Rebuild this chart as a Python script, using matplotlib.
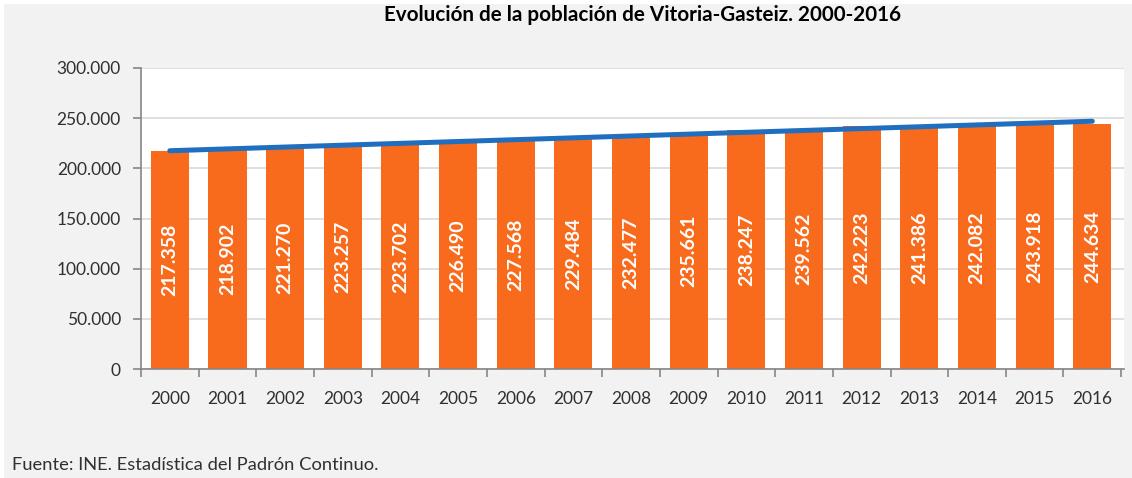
import matplotlib.pyplot as plt
import numpy as np
from matplotlib.patches import Rectangle
from matplotlib.ticker import FuncFormatter, FixedLocator

plt.rcParams['font.family'] = ['Lato', 'DejaVu Sans']

# Datos del padrón
years = ['2000', '2001', '2002', '2003', '2004', '2005', '2006', '2007', '2008',
         '2009', '2010', '2011', '2012', '2013', '2014', '2015', '2016']
population = [217358, 218902, 221270, 223257, 223702, 226490, 227568, 229484, 232477,
              235661, 238247, 239562, 242223, 241386, 242082, 243918, 244634]
y_ticks = [0, 50000, 100000, 150000, 200000, 250000, 300000]

title = 'Evolución de la población de Vitoria-Gasteiz. 2000-2016'
source = 'Fuente: INE. Estadística del Padrón Continuo.'

bar_color = '#f96b1c'
line_color = '#1f6ebf'
text_color = '#303030'

fig = plt.figure(figsize=(11.32, 4.78), dpi=100, facecolor='white')
fig.patches.append(Rectangle((4 / 1132, 0), 1, 1 - 4 / 478, transform=fig.transFigure,
                             facecolor='#f2f2f2', edgecolor='none', zorder=-10))

ax = fig.add_axes([141 / 1132, 1 - 369 / 478, 983 / 1132, 301 / 478])
ax.set_facecolor('white')

x = np.arange(len(years))
ax.bar(x, population, width=0.66, color=bar_color, zorder=2)

# linea de tendencia lineal (como la de Excel)
coef = np.polyfit(x, population, 1)
ax.plot(x, np.polyval(coef, x), color=line_color, linewidth=3.6,
        solid_capstyle='round', zorder=3, clip_on=False)

for xi, val in zip(x, population):
    label = f'{val:,}'.replace(',', '.')
    ax.text(xi, val / 2, label, rotation=90, ha='center', va='center',
            color='white', fontsize=14, fontweight='bold', zorder=4)

ax.set_xlim(-0.5, 16.55)
ax.set_ylim(0, 300000)
ax.yaxis.set_major_locator(FixedLocator(y_ticks))
ax.yaxis.set_major_formatter(FuncFormatter(lambda v, p: f'{int(v):,}'.replace(',', '.')))
ax.grid(axis='y', color='#d9d9d9', linewidth=1.2, zorder=0)

ax.set_xticks(x)
ax.set_xticklabels(years)
ax.set_xticks(np.arange(len(years) + 1) - 0.5, minor=True)
ax.tick_params(axis='x', which='major', length=0, pad=16, labelsize=12.5, labelcolor=text_color)
ax.tick_params(axis='x', which='minor', length=6, width=1.2, color='#868686')
ax.tick_params(axis='y', length=6, width=1.2, color='#868686', pad=8.5,
               labelsize=12.5, labelcolor=text_color)

for side in ['top', 'right']:
    ax.spines[side].set_visible(False)
for side in ['left', 'bottom']:
    ax.spines[side].set_color('#868686')
    ax.spines[side].set_linewidth(1.2)

fig.text(643 / 1132, 1 - 15 / 478, title, ha='center', va='center',
         fontsize=14.9, fontweight='bold', color='black')
fig.text(12 / 1132, 1 - 465 / 478, source, ha='left', va='center',
         fontsize=13.2, color=text_color)

fig.savefig('out.png', dpi=100, facecolor=fig.get_facecolor())
